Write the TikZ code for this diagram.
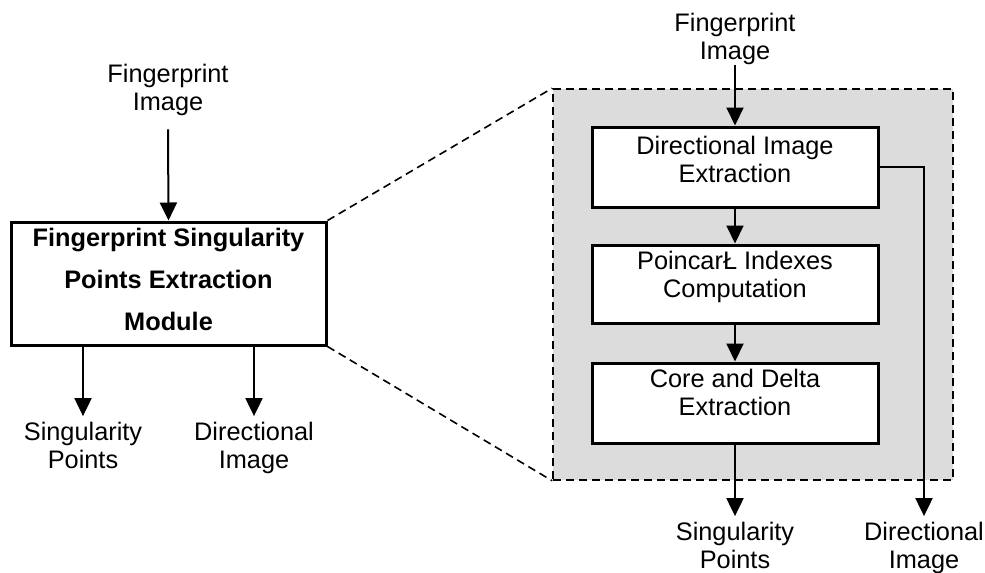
\documentclass[tikz,border=0pt]{standalone}
\usepackage{fontspec}
\setmainfont{Liberation Sans}
\usetikzlibrary{arrows.meta}
\definecolor{zoomgray}{HTML}{DCDCDC}
\tikzset{
  px/.style={x=0.75pt,y=-0.75pt},
  arr/.style={line width=1.5pt,-{Triangle[length=13.5pt,width=12.75pt]}},
  blk/.style={draw, line width=2.25pt, fill=white, inner sep=0pt},
  txt/.style={align=center, font=\fontsize{19}{21}\selectfont, inner sep=0pt},
  btxt/.style={align=center, font=\fontsize{19}{31.5}\selectfont\bfseries, inner sep=0pt},
  guide/.style={line width=1.2pt, dash pattern=on 6pt off 3.75pt},
}
\begin{document}
\begin{tikzpicture}[px]
\useasboundingbox (0,0) rectangle (985,572);

% detailed view of the module
\node[guide, draw, fill=zoomgray, inner sep=0pt,
      minimum width=300pt, minimum height=293.25pt] (zoom) at (753,284.5) {};

% module block
\node[blk, minimum width=236.25pt, minimum height=92.25pt] (lbox) at (168.5,283.5) {};
\node[btxt] (lboxt) at (168.5,279) {Fingerprint Singularity\\Points Extraction\\Module};

% inner stages
\node[blk, minimum width=214.5pt, minimum height=60pt] (d1) at (735,167) {};
\node[txt] (d1t) at (735,159) {Directional Image\\Extraction};
\node[blk, minimum width=214.5pt, minimum height=58.5pt] (d2) at (735,284) {};
\node[txt] (d2t) at (735,277) {PoincarŁ Indexes\\Computation};
\node[blk, minimum width=214.5pt, minimum height=60pt] (d3) at (735,403) {};
\node[txt] (d3t) at (735,392) {Core and Delta\\Extraction};

% inputs and outputs
\node[txt] (lin) at (168,90) {Fingerprint\\Image};
\node[txt] (ls) at (83,445) {Singularity\\Points};
\node[txt] (ld) at (254,447.5) {Directional\\Image};
\node[txt] (rin) at (735,38.5) {Fingerprint\\Image};
\node[txt] (rs) at (735,545) {Singularity\\Points};
\node[txt] (rd) at (924,547.5) {Directional\\Image};

% guide lines from the module to its detailed view
\draw[guide] (lbox.north east) -- (zoom.north west);
\draw[guide] (lbox.south east) -- (zoom.south west);

% connectors
\draw[arr] ([yshift=-10pt]lin.south) -- (lbox.north);
\draw[arr] (lbox.south -| ls.north) -- ([yshift=4pt]ls.north);
\draw[arr] (lbox.south -| ld.north) -- ([yshift=4pt]ld.north);
\draw[arr] (rin.south) -- (d1.north);
\draw[arr] (d1) -- (d2);
\draw[arr] (d2) -- (d3);
\draw[arr] (d3.south) -- ([yshift=4pt]rs.north);
\draw[arr] (d1.east) -| ([yshift=4pt]rd.north);
\end{tikzpicture}
\end{document}
